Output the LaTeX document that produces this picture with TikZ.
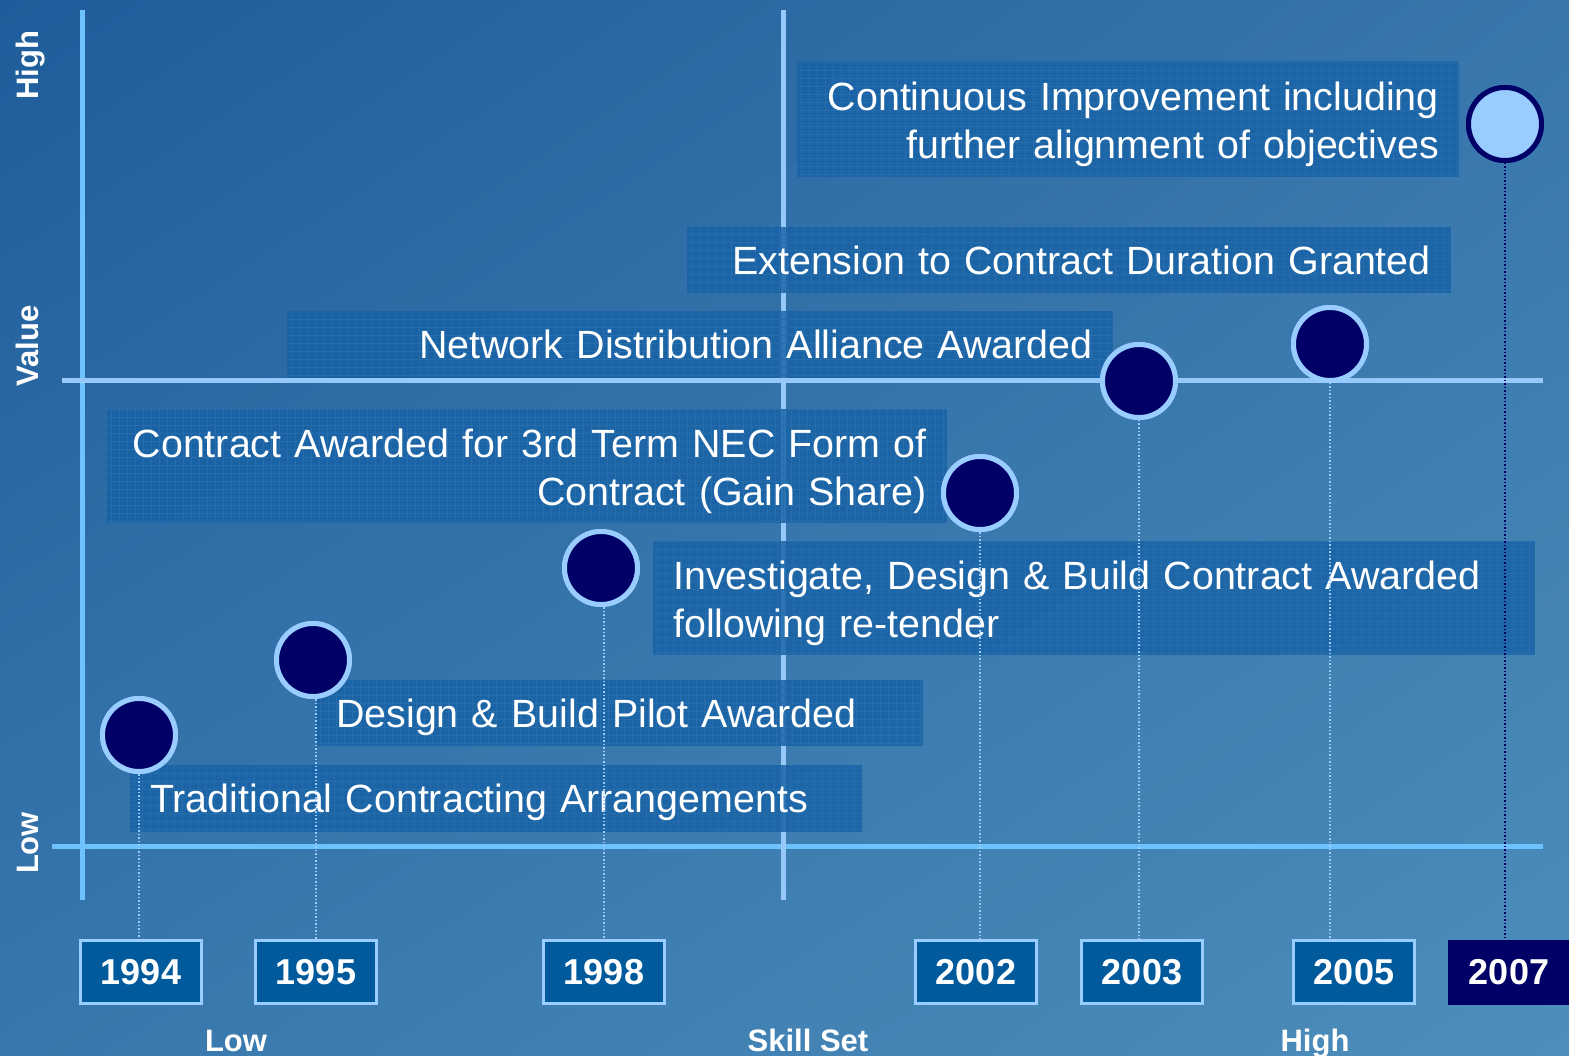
\documentclass[tikz,border=0pt]{standalone}
\usepackage{fontspec}
\setmainfont{Liberation Sans}
\usetikzlibrary{shadings}

\definecolor{navy}{HTML}{000066}
\definecolor{sky}{HTML}{99CCFF}
\definecolor{axisblue}{HTML}{6EC3FF}
\definecolor{midblue}{HTML}{96C8FA}
\definecolor{boxblue}{HTML}{1561A6}
\definecolor{gridblue}{HTML}{276DAB}
\definecolor{yearblue}{HTML}{005A9C}
\definecolor{bgA}{HTML}{1E5D9B}
\definecolor{bgB}{HTML}{3876AC}
\definecolor{bgC}{HTML}{3877AD}
\definecolor{bgD}{HTML}{4D8EBB}

\begin{document}
\begin{tikzpicture}[x=1pt,y=-1pt,
  lbl/.style={fill=boxblue, fill opacity=0.8, text opacity=1, text=white,
    inner xsep=20pt, inner ysep=0pt,
    text depth=0pt, font=\fontsize{39.4}{48}\selectfont,
    path picture={\draw[gridblue, line width=0.6pt]
      (path picture bounding box.south west) grid[step=8pt]
      (path picture bounding box.north east);}},
  lbltwo/.style={lbl, text depth=46.5pt},
  yr/.style={draw=sky, line width=2.5pt, fill=yearblue, text=white,
    minimum width=121pt, minimum height=63pt, inner sep=0pt,
    font=\bfseries\fontsize{36}{40}\selectfont},
  dot/.style={circle, fill=navy, draw=sky, line width=5pt, minimum size=73pt, inner sep=0pt},
  axis/.style={axisblue, line width=5pt},
  mid/.style={midblue, line width=5pt},
  drop/.style={sky, line width=1.5pt, dotted},
  ax/.style={text=white, inner sep=0pt, font=\bfseries\fontsize{31}{36}\selectfont}]
\clip (0,0) rectangle (1569,1056);
\shade[upper left=bgA, upper right=bgB, lower left=bgC, lower right=bgD]
  (0,0) rectangle (1569,1056);

% axes
\draw[axis] (82,10) -- (82,900);
\draw[axis] (52,846) -- (1543,846);
\draw[mid] (62,381) -- (1543,381);
\draw[mid] (783,10) -- (783,900);

% milestone texts
\node[lbltwo, anchor=north east, minimum width=662pt, minimum height=116pt,
  text width=622pt, align=right] (ci) at (1459,61)
  {Continuous Improvement including\\further alignment of objectives};
\node[lbl, anchor=north east, minimum width=764pt, minimum height=66pt,
  text width=724pt, align=right] (ext) at (1451,227)
  {Extension to Contract Duration Granted};
\node[lbl, anchor=north east, minimum width=826pt, minimum height=67pt,
  text width=786pt, align=right] (nda) at (1113,311)
  {Network Distribution Alliance Awarded};
\node[lbltwo, anchor=north east, minimum width=840pt, minimum height=114pt,
  text width=800pt, align=right] (nec) at (947,409)
  {Contract Awarded for 3rd Term NEC Form of\\Contract (Gain Share)};
\node[lbltwo, anchor=north west, minimum width=882pt, minimum height=114pt,
  text width=842pt, align=left] (idb) at (653,541)
  {Investigate, Design \& Build Contract Awarded\\following re-tender};
\node[lbl, anchor=north west, minimum width=607pt, minimum height=66pt,
  text width=567pt, align=left] (pilot) at (316,680)
  {Design \& Build Pilot Awarded};
\node[lbl, anchor=north west, minimum width=732pt, minimum height=67pt,
  text width=692pt, align=left] (trad) at (130,765)
  {Traditional Contracting Arrangements};

% years
\node[yr] (y94) at (141,972) {1994};
\node[yr] (y95) at (316,972) {1995};
\node[yr] (y98) at (604,972) {1998};
\node[yr] (y02) at (976,972) {2002};
\node[yr] (y03) at (1142,972) {2003};
\node[yr] (y05) at (1354,972) {2005};
\node[yr, draw=none, fill=navy, minimum width=123pt, minimum height=65pt] (y07) at (1509,972) {2007};

% milestones
\node[dot] (c94) at (139,735) {};
\node[dot] (c95) at (313,660) {};
\node[dot] (c98) at (601,568) {};
\node[dot] (c02) at (980,493) {};
\node[dot] (c03) at (1139,381) {};
\node[dot] (c05) at (1330,344) {};
\node[dot, fill=sky, draw=navy] (c07) at (1505,124) {};

\draw[drop] (c94) -- (c94 |- y94.north);
\draw[drop] (c95.south -| y95) -- (y95.north);
\draw[drop] (c98.south -| y98) -- (y98.north);
\draw[drop] (c02) -- (c02 |- y02.north);
\draw[drop] (c03) -- (c03 |- y03.north);
\draw[drop] (c05) -- (c05 |- y05.north);
\draw[drop, navy] (c07) -- (c07 |- y07.north);
\foreach \c in {c94,c95,c98,c02,c03,c05}
  \node[dot] at (\c) {};
\node[dot, fill=sky, draw=navy] at (c07) {};

% axis titles
\node[ax, anchor=base] (xlow) at (236,1051) {Low};
\node[ax, anchor=base] (xmid) at (808,1051) {Skill Set};
\node[ax, anchor=base] (xhigh) at (1315,1051) {High};
\node[ax, anchor=base, rotate=90] (vhigh) at (38,65) {High};
\node[ax, anchor=base, rotate=90] (vmid) at (38,346) {Value};
\node[ax, anchor=base, rotate=90] (vlow) at (38,843) {Low};
\end{tikzpicture}
\end{document}
